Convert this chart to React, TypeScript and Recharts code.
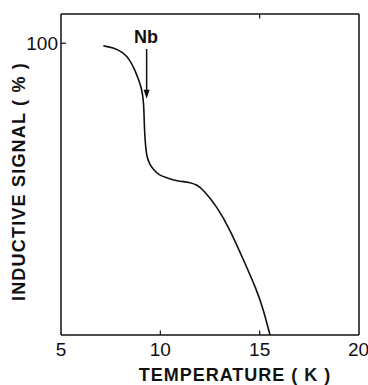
import React from "react";
import {
  LineChart,
  Line,
  XAxis,
  YAxis,
  ReferenceLine,
  ReferenceDot,
} from "recharts";

const temperatures = [7.13, 7.62, 8.14, 8.47, 8.7, 8.9, 9.05, 9.14, 9.18, 9.2, 9.25, 9.31, 9.45, 9.65, 9.93, 10.32, 10.82, 11.49, 11.85, 12.16, 12.84, 13.51, 14.18, 14.85, 15.19, 15.52];
const signal = [99.1, 98.5, 96.8, 94.2, 91.1, 87.7, 84.6, 81.1, 76.3, 70.4, 65.3, 61.3, 58.6, 56.7, 54.8, 53.9, 52.7, 52.4, 51.4, 49.8, 44.1, 36.1, 25.8, 15.5, 8.6, 0];
const xTicks = [5, 10, 15, 20];
const yTicks = [100];
const xMin = 5;
const xMax = 20;
const yMin = 0;
const yMax = 110;
const bottomInnerTicks = [10, 15];
const topInnerTicks = [15];
const leftInnerTicks = [100];
const arrowT = 9.31;
const arrowFrom = 98;
const arrowTo = 81;
const labelT = 9.28;
const labelV = 100;
const labelText = "Nb";

const data = temperatures.map((t, i) => ({ t, v: signal[i] }));

const numFont = "'Liberation Sans Narrow', 'Liberation Sans', Arial, sans-serif";
const boldFont = "'Liberation Sans', Arial, sans-serif";
const ink = "#111";

const Arrowhead = (props: any) => {
  const { cx, cy } = props;
  return <path d={`M${cx - 3},${cy - 9} L${cx + 3},${cy - 9} L${cx},${cy} Z`} fill={ink} />;
};

const NbLabel = (props: any) => {
  const { cx, cy } = props;
  return (
    <text x={cx} y={cy} textAnchor="middle" fontFamily={boldFont} fontWeight="bold" fontSize={18} fill={ink}>
      {labelText}
    </text>
  );
};

const YLabel = (props: any) => {
  const vb = props.viewBox;
  const cy = vb.y + vb.height / 2 + 7;
  const cx = 25;
  return (
    <text
      x={cx}
      y={cy}
      transform={`rotate(-90 ${cx} ${cy})`}
      textAnchor="middle"
      fontFamily={boldFont}
      fontWeight="bold"
      fontSize={18}
      letterSpacing={1.2}
      fill={ink}
    >
      INDUCTIVE  SIGNAL ( % )
    </text>
  );
};

const XLabel = (props: any) => {
  const vb = props.viewBox;
  const cx = vb.x + vb.width / 2 + 25;
  return (
    <text x={cx} y={381} textAnchor="middle" fontFamily={boldFont} fontWeight="bold" fontSize={18} letterSpacing={1} fill={ink}>
      TEMPERATURE ( K )
    </text>
  );
};

const tickLen = 1.5; // in y data units (~4px)
const tickLenX = 0.25; // in x data units (~5px)

export default function App() {
  return (
    <div style={{ position: "absolute", left: 0, top: 0, width: 368, height: 385, background: "#fff" }}>
      <LineChart width={368} height={385} data={data} margin={{ top: 14, right: 9, bottom: 0, left: 0 }}>
        <XAxis
          dataKey="t"
          type="number"
          domain={[xMin, xMax]}
          ticks={xTicks}
          height={50}
          tickSize={0}
          tickLine={false}
          tickMargin={8}
          stroke={ink}
          strokeWidth={1.5}
          tick={{ fill: ink, fontSize: 19, fontFamily: numFont }}
          label={<XLabel />}
        />
        <YAxis
          type="number"
          domain={[yMin, yMax]}
          ticks={yTicks}
          width={61}
          tickSize={0}
          tickLine={false}
          tickMargin={3}
          stroke={ink}
          strokeWidth={1.5}
          tick={{ fill: ink, fontSize: 19, fontFamily: numFont }}
          label={<YLabel />}
        />
        <ReferenceLine y={yMax} stroke={ink} strokeWidth={1.5} />
        <ReferenceLine x={xMax} stroke={ink} strokeWidth={1.5} />
        {bottomInnerTicks.map((t) => (
          <ReferenceLine key={`b${t}`} segment={[{ x: t, y: yMin }, { x: t, y: yMin + tickLen }]} stroke={ink} strokeWidth={1.2} />
        ))}
        {topInnerTicks.map((t) => (
          <ReferenceLine key={`t${t}`} segment={[{ x: t, y: yMax }, { x: t, y: yMax - tickLen }]} stroke={ink} strokeWidth={1.2} />
        ))}
        {leftInnerTicks.map((v) => (
          <ReferenceLine key={`l${v}`} segment={[{ x: xMin, y: v }, { x: xMin + tickLenX, y: v }]} stroke={ink} strokeWidth={1.2} />
        ))}
        <Line
          type="basis"
          dataKey="v"
          stroke={ink}
          strokeWidth={1.6}
          dot={false}
          isAnimationActive={false}
        />
        <ReferenceLine
          segment={[{ x: arrowT, y: arrowFrom }, { x: arrowT, y: arrowTo + 2 }]}
          stroke={ink}
          strokeWidth={1.5}
        />
        <ReferenceDot x={arrowT} y={arrowTo} r={0} shape={<Arrowhead />} />
        <ReferenceDot x={labelT} y={labelV} r={0} shape={<NbLabel />} />
      </LineChart>
    </div>
  );
}
